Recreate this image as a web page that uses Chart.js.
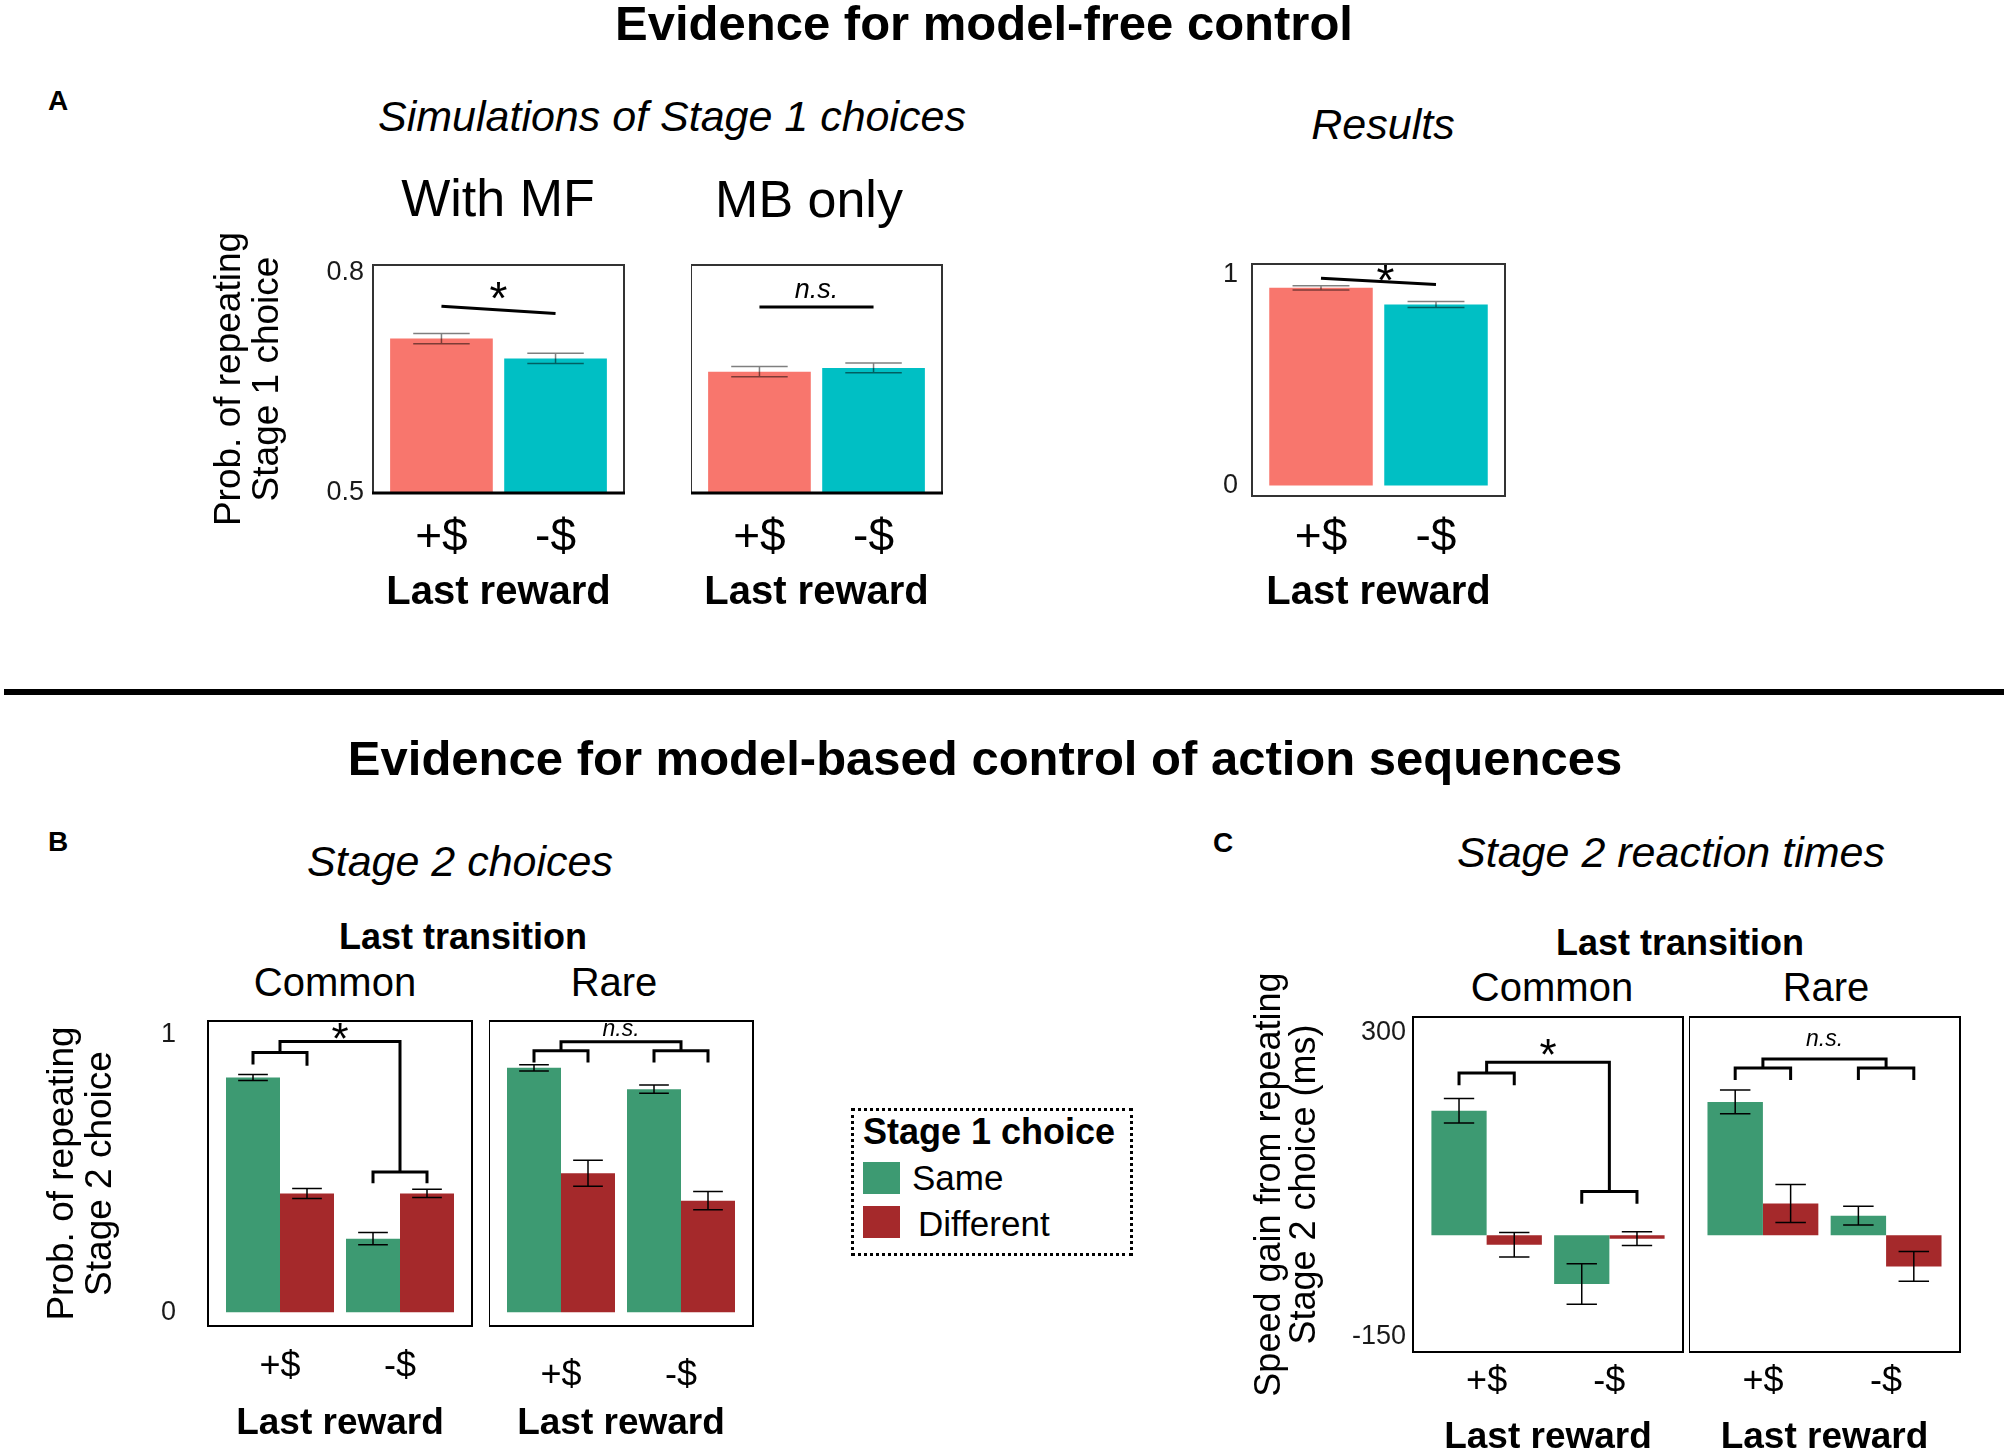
<!DOCTYPE html>
<html>
<head>
<meta charset="utf-8">
<script src="https://cdn.jsdelivr.net/npm/chart.js@4.4.1/dist/chart.umd.min.js"></script>
<style>
  html, body { margin: 0; padding: 0; background: #fff; overflow: hidden; }
  #page { position: relative; width: 2008px; height: 1452px; overflow: hidden;
          font-family: 'Liberation Sans', Arial, Helvetica, sans-serif; color: #000; }
  .t { position: absolute; transform: translate(-50%, -50%); line-height: 1; white-space: nowrap; }
  .l { position: absolute; transform: translateY(-50%); line-height: 1; white-space: nowrap; }
  .cw { position: absolute; }
  .rule { position: absolute; left: 4px; top: 689px; width: 2000px; height: 6px; background: #000; }
  .legend { position: absolute; left: 851px; top: 1108px; width: 282px; height: 148px;
            box-sizing: border-box; border: 3px dotted #000; }
  .sw { position: absolute; width: 37px; height: 32px; }
</style>
</head>
<body>
<div id="page">
  <div class="t" style="left:984px;top:23px;font:bold 49px 'Liberation Sans',Arial">Evidence for model-free control</div>
  <div class="t" style="left:58px;top:101px;font:bold 28px 'Liberation Sans',Arial">A</div>
  <div class="t" style="left:672px;top:116px;font:italic 43px 'Liberation Sans',Arial">Simulations of Stage 1 choices</div>
  <div class="t" style="left:1383px;top:124px;font:italic 43px 'Liberation Sans',Arial">Results</div>
  <div class="t" style="left:498px;top:198px;font:52px 'Liberation Sans',Arial">With MF</div>
  <div class="t" style="left:809px;top:199px;font:52px 'Liberation Sans',Arial">MB only</div>

  <div class="rule"></div>

  <div class="t" style="left:985px;top:758px;font:bold 49px 'Liberation Sans',Arial">Evidence for model-based control of action sequences</div>
  <div class="t" style="left:58px;top:842px;font:bold 28px 'Liberation Sans',Arial">B</div>
  <div class="t" style="left:1223px;top:843px;font:bold 28px 'Liberation Sans',Arial">C</div>
  <div class="t" style="left:460px;top:861px;font:italic 43px 'Liberation Sans',Arial">Stage 2 choices</div>
  <div class="t" style="left:1671px;top:852px;font:italic 43px 'Liberation Sans',Arial">Stage 2 reaction times</div>

  <div class="t" style="left:463px;top:937px;font:bold 36px 'Liberation Sans',Arial">Last transition</div>
  <div class="t" style="left:335px;top:982px;font:40px 'Liberation Sans',Arial">Common</div>
  <div class="t" style="left:614px;top:982px;font:40px 'Liberation Sans',Arial">Rare</div>
  <div class="t" style="left:1680px;top:943px;font:bold 36px 'Liberation Sans',Arial">Last transition</div>
  <div class="t" style="left:1552px;top:987px;font:40px 'Liberation Sans',Arial">Common</div>
  <div class="t" style="left:1826px;top:987px;font:40px 'Liberation Sans',Arial">Rare</div>

  <div class="legend"></div>
  <div class="l" style="left:863px;top:1132px;font:bold 36px 'Liberation Sans',Arial">Stage 1 choice</div>
  <div class="sw" id="swSame" style="left:863px;top:1162px"></div>
  <div class="l" id="lgSame" style="left:912px;top:1178px;font:35px 'Liberation Sans',Arial"></div>
  <div class="sw" id="swDiff" style="left:863px;top:1206px"></div>
  <div class="l" id="lgDiff" style="left:918px;top:1224px;font:35px 'Liberation Sans',Arial"></div>
</div>

<script>
// categories
const rewardCats = ['+$', '-$'];
const choiceLabels = ['Same', 'Different'];

// A: probability of repeating the stage 1 choice
const withMF = [0.710, 0.683];
const withMFErr = [0.007, 0.007];
const mbOnly = [0.665, 0.670];
const mbOnlyErr = [0.007, 0.0066];
const results = [0.937, 0.858];
const resultsErr = [0.010, 0.014];

// B: probability of repeating the stage 2 choice
const bCommonSame = [0.846, 0.265];
const bCommonSameErr = [0.011, 0.022];
const bCommonDiff = [0.428, 0.428];
const bCommonDiffErr = [0.018, 0.015];
const bRareSame = [0.881, 0.804];
const bRareSameErr = [0.011, 0.015];
const bRareDiff = [0.501, 0.402];
const bRareDiffErr = [0.047, 0.033];

// C: speed gain from repeating the stage 2 choice (ms)
const cCommonSame = [184, -72];
const cCommonSameErr = [18, 30];
const cCommonDiff = [-14, -5];
const cCommonDiffErr = [18, 10];
const cRareSame = [197, 29];
const cRareSameErr = [17.5, 14];
const cRareDiff = [47, -46];
const cRareDiffErr = [28, 22];

// tick labels
const yTicksA = [0.5, 0.8];
const yTicksRes = [0, 1];
const yTicksB = [0, 1];
const yTicksC = [-150, 300];

const PINK = '#F8766D', TEAL = '#00BFC4', GREEN = '#3D9A72', RED = '#A5292B';
const FONT = "'Liberation Sans', Arial, Helvetica, sans-serif";
Chart.defaults.font.family = FONT;
Chart.defaults.color = '#000';

document.getElementById('swSame').style.background = GREEN;
document.getElementById('swDiff').style.background = RED;
document.getElementById('lgSame').textContent = choiceLabels[0];
document.getElementById('lgDiff').textContent = choiceLabels[1];

const page = document.getElementById('page');
const asXY = vals => vals.map((v, i) => ({ x: i + 1, y: v }));

// error bars, significance marks and the panel frame
function overlay(o) {
  return {
    id: 'overlay',
    afterDatasetsDraw(chart) {
      const ctx = chart.ctx, xs = chart.scales.x, ys = chart.scales.y;
      const a = chart.chartArea;
      ctx.save();

      ctx.strokeStyle = o.errColor;
      ctx.lineWidth = 1.5;
      o.errors.forEach((errs, di) => {
        const meta = chart.getDatasetMeta(di);
        const vals = chart.data.datasets[di].data;
        meta.data.forEach((bar, i) => {
          const v = vals[i].y, e = errs[i];
          const hw = bar.width * 0.55 / 2;
          const top = ys.getPixelForValue(v + e), bot = ys.getPixelForValue(v - e);
          ctx.beginPath();
          ctx.moveTo(bar.x, top); ctx.lineTo(bar.x, bot);
          ctx.moveTo(bar.x - hw, top); ctx.lineTo(bar.x + hw, top);
          ctx.moveTo(bar.x - hw, bot); ctx.lineTo(bar.x + hw, bot);
          ctx.stroke();
        });
      });

      ctx.strokeStyle = '#000';
      ctx.lineWidth = 3;
      ctx.lineJoin = 'miter';
      o.sig.forEach(path => {
        ctx.beginPath();
        path.forEach(([x, y], i) => {
          const px = xs.getPixelForValue(x), py = ys.getPixelForValue(y);
          if (i === 0) ctx.moveTo(px, py); else ctx.lineTo(px, py);
        });
        ctx.stroke();
      });

      const lb = o.label;
      ctx.fillStyle = '#000';
      ctx.textAlign = 'center';
      ctx.textBaseline = 'middle';
      ctx.font = (lb.italic ? 'italic ' : '') + lb.size + 'px ' + FONT;
      ctx.fillText(lb.text, xs.getPixelForValue(lb.x), ys.getPixelForValue(lb.y));

      ctx.strokeStyle = o.frame.color;
      ctx.lineWidth = o.frame.width;
      ctx.strokeRect(a.left, a.top, a.right - a.left, a.bottom - a.top);
      if (o.frame.bottom) {
        ctx.strokeStyle = '#000';
        ctx.lineWidth = o.frame.bottom;
        ctx.beginPath();
        ctx.moveTo(a.left - 1, a.bottom); ctx.lineTo(a.right + 1, a.bottom);
        ctx.stroke();
      }
      ctx.restore();
    }
  };
}

function panel(o) {
  const padTop = 80, padRight = 4;
  const [l, t, r, b] = o.box;
  const leftW = o.y.show ? o.y.width : 0;
  const wrap = document.createElement('div');
  wrap.className = 'cw';
  wrap.style.left = (l - leftW) + 'px';
  wrap.style.top = (t - padTop) + 'px';
  wrap.style.width = (r - l + leftW + padRight) + 'px';
  wrap.style.height = (b - t + padTop + o.x.height) + 'px';
  const cv = document.createElement('canvas');
  wrap.appendChild(cv);
  page.appendChild(wrap);

  return new Chart(cv, {
    type: 'bar',
    data: {
      datasets: o.series.map(s => ({
        label: s.label,
        data: asXY(s.values),
        backgroundColor: s.color,
        borderWidth: 0,
        categoryPercentage: 0.9,
        barPercentage: 1,
        clip: 0
      }))
    },
    options: {
      responsive: true,
      maintainAspectRatio: false,
      animation: false,
      events: [],
      layout: { padding: { top: padTop, right: padRight, left: 0, bottom: 0 } },
      plugins: { legend: { display: false }, tooltip: { enabled: false } },
      scales: {
        x: {
          type: 'linear', min: 0.4, max: 2.6, offset: false,
          grid: { display: false, drawTicks: false, offset: false }, border: { display: false },
          afterBuildTicks: s => { s.ticks = rewardCats.map((c, i) => ({ value: i + 1 })); },
          afterFit: s => { s.height = o.x.height; },
          ticks: {
            callback: (v, i) => rewardCats[i],
            font: { size: o.x.tickSize }, color: '#000',
            padding: o.x.tickPad, maxRotation: 0, autoSkip: false
          },
          title: {
            display: true, text: 'Last reward', color: '#000',
            font: { size: o.x.titleSize, weight: 'bold' }, padding: 0
          }
        },
        y: {
          display: o.y.show, min: o.y.min, max: o.y.max,
          grid: { display: false, drawTicks: false }, border: { display: false },
          afterBuildTicks: s => { s.ticks = o.y.ticks.map(v => ({ value: v })); },
          afterFit: s => { s.width = leftW; },
          ticks: { callback: v => String(v), font: { size: 27 }, color: '#1a1a1a', padding: o.y.tickPad },
          title: o.y.title
            ? { display: true, text: o.y.title, color: '#000', padding: 0,
                font: { size: o.y.titleSize, lineHeight: o.y.titleLH } }
            : { display: false }
        }
      }
    },
    plugins: [overlay(o)]
  });
}

// ---- A ----
const xA = { height: 124, tickSize: 46, tickPad: 18, titleSize: 40 };
const frameA = { color: '#333', width: 2, bottom: 3 };

panel({
  box: [373, 265, 624, 493], x: xA,
  y: { show: true, width: 163, min: 0.5, max: 0.81, ticks: yTicksA, tickPad: 9,
       title: ['Prob. of repeating', 'Stage 1 choice'], titleSize: 37, titleLH: 1.05 },
  series: [{ label: 'With MF', values: withMF, color: [PINK, TEAL] }],
  errors: [withMFErr], errColor: 'rgba(0,0,0,0.5)', frame: frameA,
  sig: [[[1, 0.754], [2, 0.744]]],
  label: { text: '*', x: 1.5, y: 0.761, size: 46 }
});

panel({
  box: [691, 265, 942, 493], x: xA,
  y: { show: false, min: 0.5, max: 0.81, ticks: yTicksA },
  series: [{ label: 'MB only', values: mbOnly, color: [PINK, TEAL] }],
  errors: [mbOnlyErr], errColor: 'rgba(0,0,0,0.5)', frame: frameA,
  sig: [[[1, 0.753], [2, 0.753]]],
  label: { text: 'n.s.', x: 1.5, y: 0.776, size: 27, italic: true }
});

panel({
  box: [1252, 264, 1505, 496], x: { height: 121, tickSize: 46, tickPad: 15, titleSize: 40 },
  y: { show: true, width: 60, min: -0.05, max: 1.05, ticks: yTicksRes, tickPad: 14 },
  series: [{ label: 'Results', values: results, color: [PINK, TEAL] }],
  errors: [resultsErr], errColor: 'rgba(0,0,0,0.5)', frame: { color: '#333', width: 2 },
  sig: [[[1, 0.982], [2, 0.953]]],
  label: { text: '*', x: 1.56, y: 0.958, size: 46 }
});

// ---- B ----
const frameBC = { color: '#000', width: 2 };

panel({
  box: [208, 1021, 472, 1326], x: { height: 120, tickSize: 36, tickPad: 19, titleSize: 37 },
  y: { show: true, width: 165, min: -0.05, max: 1.05, ticks: yTicksB, tickPad: 32,
       title: ['Prob. of repeating', 'Stage 2 choice'], titleSize: 37, titleLH: 1.05 },
  series: [
    { label: choiceLabels[0], values: bCommonSame, color: GREEN },
    { label: choiceLabels[1], values: bCommonDiff, color: RED }
  ],
  errors: [bCommonSameErr, bCommonDiffErr], errColor: '#000', frame: frameBC,
  sig: [
    [[0.775, 0.893], [0.775, 0.936], [1.225, 0.936], [1.225, 0.889]],
    [[1, 0.936], [1, 0.9765], [2, 0.9765], [2, 0.505]],
    [[1.775, 0.465], [1.775, 0.505], [2.225, 0.505], [2.225, 0.465]]
  ],
  label: { text: '*', x: 1.5, y: 0.9755, size: 44 }
});

panel({
  box: [489, 1021, 753, 1326], x: { height: 120, tickSize: 36, tickPad: 28, titleSize: 37 },
  y: { show: false, min: -0.05, max: 1.05, ticks: yTicksB },
  series: [
    { label: choiceLabels[0], values: bRareSame, color: GREEN },
    { label: choiceLabels[1], values: bRareDiff, color: RED }
  ],
  errors: [bRareSameErr, bRareDiffErr], errColor: '#000', frame: frameBC,
  sig: [
    [[0.775, 0.900], [0.775, 0.943], [1.225, 0.943], [1.225, 0.900]],
    [[1.775, 0.900], [1.775, 0.943], [2.225, 0.943], [2.225, 0.900]],
    [[1, 0.943], [1, 0.975], [2, 0.975], [2, 0.943]]
  ],
  label: { text: 'n.s.', x: 1.5, y: 1.02, size: 23, italic: true }
});

// ---- C ----
const xC = { height: 108, tickSize: 36, tickPad: 8, titleSize: 37 };

panel({
  box: [1413, 1017, 1683, 1352], x: xC,
  y: { show: true, width: 161, min: -172.5, max: 322.5, ticks: yTicksC, tickPad: 7,
       title: ['Speed gain from repeating', 'Stage 2 choice (ms)'], titleSize: 36, titleLH: 0.99 },
  series: [
    { label: choiceLabels[0], values: cCommonSame, color: GREEN },
    { label: choiceLabels[1], values: cCommonDiff, color: RED }
  ],
  errors: [cCommonSameErr, cCommonDiffErr], errColor: '#000', frame: frameBC,
  sig: [
    [[0.775, 221.7], [0.775, 239.6], [1.225, 239.6], [1.225, 221.7]],
    [[1, 239.6], [1, 255.5], [2, 255.5], [2, 64.5]],
    [[1.775, 46.6], [1.775, 64.5], [2.225, 64.5], [2.225, 46.6]]
  ],
  label: { text: '*', x: 1.5, y: 262.5, size: 44 }
});

panel({
  box: [1689, 1017, 1960, 1352], x: xC,
  y: { show: false, min: -172.5, max: 322.5, ticks: yTicksC },
  series: [
    { label: choiceLabels[0], values: cRareSame, color: GREEN },
    { label: choiceLabels[1], values: cRareDiff, color: RED }
  ],
  errors: [cRareSameErr, cRareDiffErr], errColor: '#000', frame: frameBC,
  sig: [
    [[0.775, 229.5], [0.775, 247.3], [1.225, 247.3], [1.225, 229.5]],
    [[1.775, 229.5], [1.775, 247.3], [2.225, 247.3], [2.225, 229.5]],
    [[1, 247.3], [1, 260.4], [2, 260.4], [2, 247.3]]
  ],
  label: { text: 'n.s.', x: 1.5, y: 288.5, size: 23, italic: true }
});
</script>
</body>
</html>
